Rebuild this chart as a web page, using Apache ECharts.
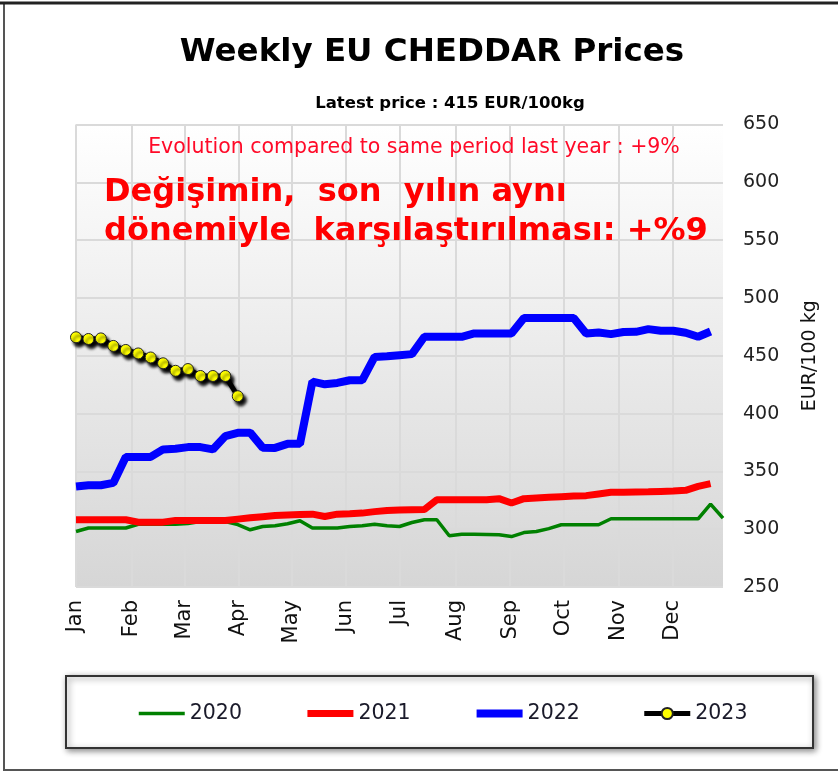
<!DOCTYPE html>
<html>
<head>
<meta charset="utf-8">
<script src="https://cdn.jsdelivr.net/npm/echarts@6/dist/echarts.min.js"></script>
<style>
  html, body { margin: 0; padding: 0; background: #fff; }
  #chart { width: 838px; height: 775px; }
</style>
</head>
<body>
<div id="chart"></div>
<script>
// month labels and where each month starts, in weeks from 1 Jan
var months = ['Jan', 'Feb', 'Mar', 'Apr', 'May', 'Jun', 'Jul', 'Aug', 'Sep', 'Oct', 'Nov', 'Dec'];
var monthStarts = [0, 4.48, 8.71, 13.1, 17.33, 21.68, 25.99, 30.52, 34.89, 39.17, 43.59, 47.96];

// weekly prices, EUR/100 kg (week 0 = first week of Jan)
var prices2020 = [298, 301, 301, 301, 301, 304.3, 304.3, 304.3, 304.3, 305,
    306.7, 306.7, 306.7, 304, 299.5, 302.3, 303, 304.7, 307.3, 301,
    301, 301, 302.3, 303, 304.3, 303, 302.3, 305.8, 308.2, 308.2,
    294.3, 295.7, 295.7, 295.5, 295.1, 293.6, 297.1, 298, 300.5, 303.8,
    303.8, 303.8, 303.8, 309, 309, 309, 309, 309, 309, 309,
    309, 321.7, 309.5];
var prices2021 = [308.2, 308.2, 308.2, 308.2, 308.2, 306.1, 306.1, 306.1, 307.6, 307.6,
    307.6, 307.6, 307.6, 308.7, 309.8, 310.8, 311.8, 312.2, 312.6, 313,
    311, 313, 313.4, 313.9, 315.2, 316.2, 316.5, 316.8, 317, 325.5,
    325.5, 325.5, 325.5, 325.5, 326.4, 322.6, 326.4, 327, 327.6, 328.1,
    328.6, 329, 330.5, 331.9, 332, 332.2, 332.4, 332.7, 333, 333.6,
    337, 339.4];
var prices2022 = [337, 338, 338, 340, 362.5, 362.5, 362.5, 369, 369.5, 371,
    371, 369, 380.5, 383.3, 383.5, 370.5, 370.3, 373.8, 373.8, 427.6,
    425.3, 426.5, 428.8, 428.8, 449, 449.5, 450.5, 451.4, 466.4, 466.4,
    466.4, 466.4, 469.3, 469.3, 469.3, 469.3, 482.6, 482.6, 482.6, 482.6,
    482.6, 469.3, 470.1, 468.7, 470.5, 470.7, 473, 471.6, 471.6, 469.9,
    466.4, 471];
var prices2023 = [466, 464.5, 465, 458.5, 455, 452, 448.5, 443.5, 437, 438.5,
    432.5, 432.5, 432.5, 415];

function toPoints(arr) {
    return arr.map(function (v, i) { return [i, v]; });
}

var chart = echarts.init(document.getElementById('chart'), null, { renderer: 'canvas' });

var FONT = 'DejaVu Sans';
var noDot = { opacity: 0 };

chart.setOption({
    animation: false,
    backgroundColor: '#fff',
    grid: {
        left: 76,
        right: 115,
        top: 124.5,
        bottom: 188,
        show: true,
        borderWidth: 0,
        backgroundColor: new echarts.graphic.LinearGradient(0, 0, 0, 1, [
            { offset: 0, color: '#ffffff' },
            { offset: 1, color: '#d6d6d6' }
        ])
    },
    xAxis: {
        type: 'value',
        min: 0,
        max: 52,
        axisLine: { show: false },
        axisTick: { show: false, customValues: monthStarts },
        axisLabel: {
            customValues: monthStarts,
            rotate: 90,
            margin: 13,
            fontFamily: FONT,
            fontSize: 21,
            color: '#111',
            formatter: function (val) {
                var best = 0;
                for (var i = 0; i < monthStarts.length; i++) {
                    if (Math.abs(monthStarts[i] - val) < Math.abs(monthStarts[best] - val)) best = i;
                }
                return months[best];
            }
        },
        splitLine: { show: true, lineStyle: { color: '#dadada', width: 2 } }
    },
    yAxis: {
        type: 'value',
        position: 'right',
        min: 250,
        max: 650,
        interval: 50,
        name: 'EUR/100 kg',
        nameLocation: 'middle',
        nameRotate: 90,
        nameGap: 78,
        nameTextStyle: { fontFamily: FONT, fontSize: 19, color: '#111' },
        axisLine: { show: false },
        axisTick: { show: false },
        axisLabel: { margin: 20, fontFamily: FONT, fontSize: 19, color: '#222' },
        splitLine: { lineStyle: { color: '#dadada', width: 2 } }
    },
    legend: {
        left: 132,
        top: 698,
        itemWidth: 46,
        itemHeight: 14,
        itemGap: 62,
        selectedMode: false,
        textStyle: { fontFamily: FONT, fontSize: 20.5, color: '#1a1a2a' },
        lineStyle: { width: 'inherit' },
        data: [
            { name: '2020', itemStyle: noDot },
            { name: '2021', itemStyle: noDot },
            { name: '2022', itemStyle: noDot },
            { name: '2023' }
        ]
    },
    graphic: [
        {
            type: 'rect', z: -10, silent: true,
            shape: { x: 4, y: 3, width: 850, height: 767 },
            style: { fill: 'none', stroke: '#555', lineWidth: 2 }
        },
        {
            type: 'line', z: -9, silent: true,
            shape: { x1: 0, y1: 3, x2: 838, y2: 3 },
            style: { stroke: '#222', lineWidth: 3 }
        },
        {
            type: 'rect', z: -5, silent: true,
            shape: { x: 66, y: 676, width: 747, height: 72 },
            style: {
                fill: '#fff', stroke: '#333', lineWidth: 2,
                shadowBlur: 6, shadowOffsetX: 2, shadowOffsetY: 2, shadowColor: 'rgba(0,0,0,0.45)'
            }
        },
        {
            type: 'text', silent: true,
            style: {
                text: 'Weekly EU CHEDDAR Prices', x: 432, y: 53,
                align: 'center', verticalAlign: 'middle',
                font: 'bold 32.5px "DejaVu Sans"', fill: '#000'
            }
        },
        {
            type: 'text', silent: true,
            style: {
                text: 'Latest price : 415 EUR/100kg', x: 450, y: 104,
                align: 'center', verticalAlign: 'middle',
                font: 'bold 16.5px "DejaVu Sans"', fill: '#000'
            }
        },
        {
            type: 'text', silent: true, z: 10,
            style: {
                text: 'Evolution compared to same period last year : +9%', x: 414, y: 148,
                align: 'center', verticalAlign: 'middle',
                font: '20.5px "DejaVu Sans"', fill: '#ff0a28'
            }
        },
        {
            type: 'text', silent: true, z: 10,
            style: {
                text: 'Değişimin,  son  yılın aynı\ndönemiyle  karşılaştırılması: +%9', x: 104, y: 173,
                align: 'left', verticalAlign: 'top', lineHeight: 39,
                font: 'bold 32px "DejaVu Sans"', fill: '#ff0000'
            }
        }
    ],
    series: [
        {
            name: '2020', type: 'line', data: toPoints(prices2020),
            symbol: 'none', color: '#008000',
            lineStyle: { color: '#008000', width: 3.5 }
        },
        {
            name: '2021', type: 'line', data: toPoints(prices2021),
            symbol: 'none', color: '#ff0000',
            lineStyle: { color: '#ff0000', width: 7 }
        },
        {
            name: '2022', type: 'line', data: toPoints(prices2022),
            symbol: 'none', color: '#0000ff',
            lineStyle: { color: '#0000ff', width: 8 }
        },
        {
            name: '2023', type: 'line', data: toPoints(prices2023),
            symbol: 'circle', symbolSize: 11, showSymbol: true, color: '#ffff00',
            lineStyle: {
                color: '#000', width: 5,
                shadowColor: 'rgba(0,0,0,0.9)', shadowBlur: 3, shadowOffsetX: 3, shadowOffsetY: 4
            },
            itemStyle: {
                color: '#ffff00', borderColor: '#222', borderWidth: 1,
                shadowColor: 'rgba(0,0,0,0.95)', shadowBlur: 3, shadowOffsetX: 3, shadowOffsetY: 4
            }
        }
    ]
});
</script>
</body>
</html>
